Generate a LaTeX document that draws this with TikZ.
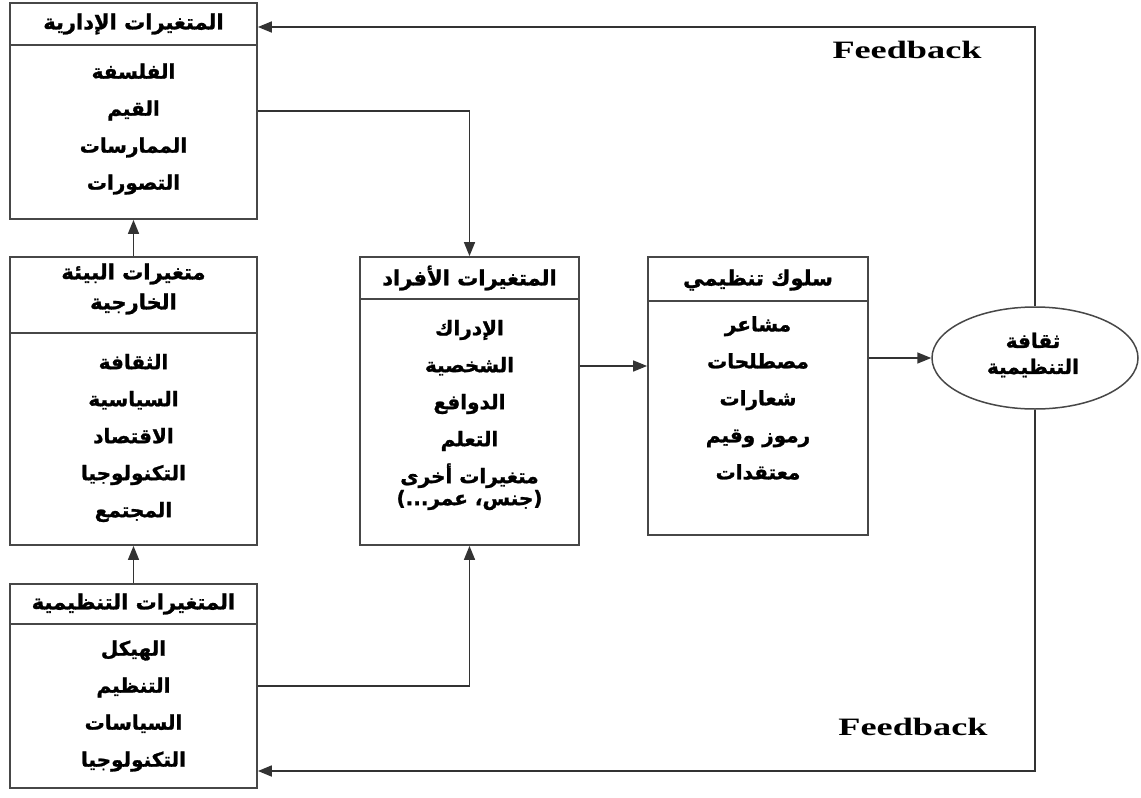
\documentclass[tikz,border=0pt]{standalone}
\usepackage{fontspec}
\usetikzlibrary{arrows.meta,shapes.geometric}
\TeXXeTstate=1
\newfontfamily\arabicfont[Script=Arabic, BoldFeatures={FakeBold=1.2}]{DejaVu Sans}
\newfontfamily\latinserif{Liberation Serif}
\newcommand\ar[1]{\beginR #1\endR}

\tikzset{
  panel/.style={draw=black!72, line width=1.8pt, fill=white, inner sep=0pt},
  divider/.style={draw=black!72, line width=1.6pt},
  arr/.style={draw=black!80, line width=1.6pt, -{Triangle[length=14pt,width=11pt]}},
  artext/.style={align=center, inner sep=0pt,
    font=\arabicfont\bfseries\fontsize{20}{37}\selectfont},
  arhead/.style={align=center, inner sep=0pt,
    font=\arabicfont\bfseries\fontsize{21}{30}\selectfont},
  fbtext/.style={inner sep=0pt, font=\latinserif\bfseries\fontsize{25}{30}\selectfont}
}

\begin{document}
\begin{tikzpicture}[x=1pt, y=-1pt]
\useasboundingbox (0,0) rectangle (1141,798);

% ---- boxes ----
\node[panel, minimum width=247pt, minimum height=216pt] (adm) at (133.5,111) {};
\node[panel, minimum width=247pt, minimum height=288pt] (env) at (133.5,401) {};
\node[panel, minimum width=247pt, minimum height=204pt] (org) at (133.5,686) {};
\node[panel, minimum width=219pt, minimum height=288pt] (ind) at (469.5,401) {};
\node[panel, minimum width=220pt, minimum height=278pt] (beh) at (758,396) {};
\node[panel, ellipse, minimum width=206pt, minimum height=102pt, line width=1.5pt] (cult) at (1035,358) {};

% ---- header separators ----
\draw[divider] ([yshift=-43pt]adm.north west) -- ([yshift=-43pt]adm.north east);
\draw[divider] ([yshift=-77pt]env.north west) -- ([yshift=-77pt]env.north east);
\draw[divider] ([yshift=-41pt]org.north west) -- ([yshift=-41pt]org.north east);
\draw[divider] ([yshift=-43pt]ind.north west) -- ([yshift=-43pt]ind.north east);
\draw[divider] ([yshift=-45pt]beh.north west) -- ([yshift=-45pt]beh.north east);

% ---- headers ----
\node[arhead] (admh) at (133.5,24) {\ar{المتغيرات الإدارية}};
\node[arhead] (envh) at (133.5,289) {\ar{متغيرات البيئة}\\\ar{الخارجية}};
\node[arhead] (orgh) at (133.5,604) {\ar{المتغيرات التنظيمية}};
\node[arhead] (indh) at (469.5,278) {\ar{المتغيرات الأفراد}};
\node[arhead] (behh) at (758,280) {\ar{سلوك تنظيمي}};

% ---- contents ----
\node[artext] (admb) at (133.5,129) {\ar{الفلسفة}\\\ar{القيم}\\\ar{الممارسات}\\\ar{التصورات}};
\node[artext] (envb) at (133.5,438) {\ar{الثقافة}\\\ar{السياسية}\\\ar{الاقتصاد}\\\ar{التكنولوجيا}\\\ar{المجتمع}};
\node[artext] (orgb) at (133.5,706) {\ar{الهيكل}\\\ar{التنظيم}\\\ar{السياسات}\\\ar{التكنولوجيا}};
\node[artext] (indb) at (469.5,415) {\ar{الإدراك}\\\ar{الشخصية}\\\ar{الدوافع}\\\ar{التعلم}\\\ar{متغيرات أخرى}\\[-15pt]\ar{(جنس، عمر...)}};
\node[artext] (behb) at (758,398) {\ar{مشاعر}\\\ar{مصطلحات}\\\ar{شعارات}\\\ar{رموز وقيم}\\\ar{معتقدات}};
\node[arhead, font=\arabicfont\bfseries\fontsize{20}{26}\selectfont] (cultt) at (1033,355) {\ar{ثقافة}\\\ar{التنظيمية}};

% ---- feedback labels ----
\node[fbtext] (fb1) at (907,50) {\scalebox{1.45}[1]{Feedback}};
\node[fbtext] (fb2) at (913,727) {\scalebox{1.45}[1]{Feedback}};

% ---- connectors ----
\coordinate (ya) at (0,366);
\coordinate (yt) at (0,27);
\coordinate (yb) at (0,771);
\draw[arr] (env.north) -- (adm.south);
\draw[arr] (org.north) -- (env.south);
\draw[arr] (adm.east) -| (ind.north);
\draw[arr] (org.east) -| (ind.south);
\draw[arr] (ind.east |- ya) -- (beh.west |- ya);
\draw[arr] (beh.east |- cult.west) -- (cult.west);
\draw[arr, line width=1.8pt] (cult.north) |- (adm.east |- yt);
\draw[arr, line width=1.8pt] (cult.south) |- (org.east |- yb);
\end{tikzpicture}
\end{document}
